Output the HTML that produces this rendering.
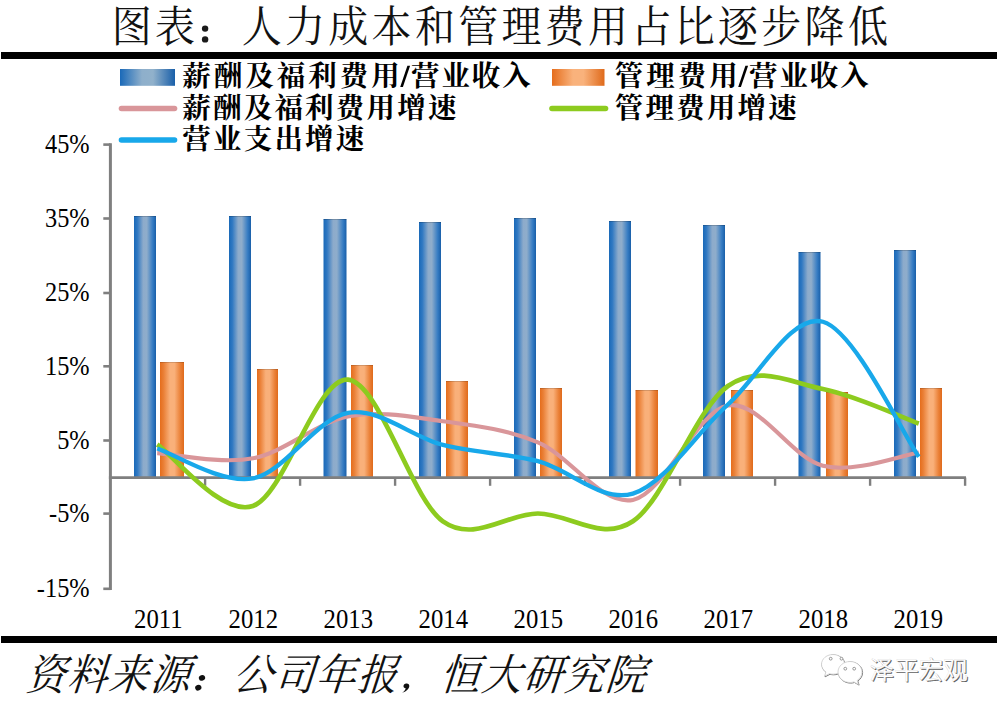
<!DOCTYPE html>
<html><head><meta charset="utf-8"><title>chart</title>
<style>
html,body{margin:0;padding:0;background:#fff;}
body{width:1001px;height:714px;overflow:hidden;font-family:"Liberation Serif",serif;}
svg{display:block}
.n{font-family:"Liberation Serif",serif;font-size:24px;fill:#000}
.t{font-family:"Liberation Serif","Noto Serif CJK SC",serif;font-size:40px;fill:#111}
.l{font-family:"Liberation Serif","Noto Serif CJK SC",serif;font-size:28.5px;font-weight:bold;fill:#000}
.w{font-family:"Liberation Sans","Noto Sans CJK SC",sans-serif;font-size:24.6px}
</style></head><body>
<svg width="1001" height="714" viewBox="0 0 1001 714">
<defs>
<linearGradient id="gb" x1="0" x2="1" y1="0" y2="0">
<stop offset="0" stop-color="#1a69b8"/><stop offset="0.15" stop-color="#2f78c2"/><stop offset="0.42" stop-color="#8dabcb"/><stop offset="0.58" stop-color="#8fadcb"/><stop offset="0.85" stop-color="#367cc3"/><stop offset="1" stop-color="#195fa9"/>
</linearGradient>
<linearGradient id="go" x1="0" x2="1" y1="0" y2="0">
<stop offset="0" stop-color="#e56d1c"/><stop offset="0.15" stop-color="#ea8037"/><stop offset="0.42" stop-color="#f9b07a"/><stop offset="0.6" stop-color="#f9b07a"/><stop offset="0.85" stop-color="#ea8037"/><stop offset="1" stop-color="#df6a1b"/>
</linearGradient>
<linearGradient id="gbl" x1="0" x2="1" y1="0" y2="0">
<stop offset="0" stop-color="#1a69b8"/><stop offset="0.4" stop-color="#8eafcb"/><stop offset="0.6" stop-color="#91b1cb"/><stop offset="1" stop-color="#195fa9"/>
</linearGradient>
<linearGradient id="gor" x1="0" x2="1" y1="0" y2="0">
<stop offset="0" stop-color="#e56d1c"/><stop offset="0.4" stop-color="#f9b27c"/><stop offset="0.6" stop-color="#f9b27c"/><stop offset="1" stop-color="#df6a1b"/>
</linearGradient>
</defs>
<rect x="0" y="0" width="1001" height="714" fill="#fff"/>
<rect x="1" y="52" width="996" height="7" fill="#000"/>
<rect x="1" y="636" width="996" height="7" fill="#000"/>
<rect x="120" y="69" width="55" height="16.8" fill="url(#gbl)"/>
<rect x="552" y="69" width="52.5" height="16.8" fill="url(#gor)"/>
<line x1="121.5" y1="108.5" x2="174.5" y2="108.5" stroke="#d9969a" stroke-width="5.6" stroke-linecap="round"/>
<line x1="552" y1="108.5" x2="605.5" y2="108.5" stroke="#8dcb1f" stroke-width="5.6" stroke-linecap="round"/>
<line x1="121.5" y1="140" x2="174.5" y2="140" stroke="#18a8ea" stroke-width="5.6" stroke-linecap="round"/>
<rect x="134.0" y="216.0" width="22.0" height="261.6" fill="url(#gb)"/>
<rect x="160.0" y="362.0" width="24.0" height="115.6" fill="url(#go)"/>
<rect x="134.0" y="216.0" width="22.0" height="1" fill="#000" fill-opacity="0.18"/>
<rect x="160.0" y="362.0" width="24.0" height="1" fill="#000" fill-opacity="0.15"/>
<rect x="229.0" y="216.0" width="22.0" height="261.6" fill="url(#gb)"/>
<rect x="257.0" y="369.0" width="21.0" height="108.6" fill="url(#go)"/>
<rect x="229.0" y="216.0" width="22.0" height="1" fill="#000" fill-opacity="0.18"/>
<rect x="257.0" y="369.0" width="21.0" height="1" fill="#000" fill-opacity="0.15"/>
<rect x="323.5" y="219.0" width="23.0" height="258.6" fill="url(#gb)"/>
<rect x="351.0" y="365.0" width="22.0" height="112.6" fill="url(#go)"/>
<rect x="323.5" y="219.0" width="23.0" height="1" fill="#000" fill-opacity="0.18"/>
<rect x="351.0" y="365.0" width="22.0" height="1" fill="#000" fill-opacity="0.15"/>
<rect x="419.0" y="222.0" width="22.0" height="255.6" fill="url(#gb)"/>
<rect x="446.0" y="381.0" width="22.0" height="96.6" fill="url(#go)"/>
<rect x="419.0" y="222.0" width="22.0" height="1" fill="#000" fill-opacity="0.18"/>
<rect x="446.0" y="381.0" width="22.0" height="1" fill="#000" fill-opacity="0.15"/>
<rect x="514.0" y="218.0" width="22.0" height="259.6" fill="url(#gb)"/>
<rect x="540.0" y="388.0" width="22.0" height="89.6" fill="url(#go)"/>
<rect x="514.0" y="218.0" width="22.0" height="1" fill="#000" fill-opacity="0.18"/>
<rect x="540.0" y="388.0" width="22.0" height="1" fill="#000" fill-opacity="0.15"/>
<rect x="609.0" y="221.0" width="22.0" height="256.6" fill="url(#gb)"/>
<rect x="635.5" y="390.0" width="22.5" height="87.6" fill="url(#go)"/>
<rect x="609.0" y="221.0" width="22.0" height="1" fill="#000" fill-opacity="0.18"/>
<rect x="635.5" y="390.0" width="22.5" height="1" fill="#000" fill-opacity="0.15"/>
<rect x="703.0" y="225.0" width="22.0" height="252.6" fill="url(#gb)"/>
<rect x="731.0" y="390.0" width="22.0" height="87.6" fill="url(#go)"/>
<rect x="703.0" y="225.0" width="22.0" height="1" fill="#000" fill-opacity="0.18"/>
<rect x="731.0" y="390.0" width="22.0" height="1" fill="#000" fill-opacity="0.15"/>
<rect x="798.5" y="252.0" width="22.0" height="225.6" fill="url(#gb)"/>
<rect x="826.0" y="392.0" width="22.0" height="85.6" fill="url(#go)"/>
<rect x="798.5" y="252.0" width="22.0" height="1" fill="#000" fill-opacity="0.18"/>
<rect x="826.0" y="392.0" width="22.0" height="1" fill="#000" fill-opacity="0.15"/>
<rect x="894.0" y="250.0" width="22.0" height="227.6" fill="url(#gb)"/>
<rect x="920.0" y="388.0" width="22.0" height="89.6" fill="url(#go)"/>
<rect x="894.0" y="250.0" width="22.0" height="1" fill="#000" fill-opacity="0.18"/>
<rect x="920.0" y="388.0" width="22.0" height="1" fill="#000" fill-opacity="0.15"/>
<line x1="110.4" y1="143.2" x2="110.4" y2="590" stroke="#7f7f7f" stroke-width="3"/>
<line x1="108.9" y1="477.6" x2="966" y2="477.6" stroke="#7f7f7f" stroke-width="2.6"/>
<line x1="103.3" y1="144.6" x2="110.4" y2="144.6" stroke="#7f7f7f" stroke-width="2.6"/>
<line x1="103.3" y1="218.5" x2="110.4" y2="218.5" stroke="#7f7f7f" stroke-width="2.6"/>
<line x1="103.3" y1="293.0" x2="110.4" y2="293.0" stroke="#7f7f7f" stroke-width="2.6"/>
<line x1="103.3" y1="366.3" x2="110.4" y2="366.3" stroke="#7f7f7f" stroke-width="2.6"/>
<line x1="103.3" y1="440.5" x2="110.4" y2="440.5" stroke="#7f7f7f" stroke-width="2.6"/>
<line x1="103.3" y1="513.6" x2="110.4" y2="513.6" stroke="#7f7f7f" stroke-width="2.6"/>
<line x1="103.3" y1="588.8" x2="110.4" y2="588.8" stroke="#7f7f7f" stroke-width="2.6"/>
<line x1="205.1" y1="477.6" x2="205.1" y2="485.8" stroke="#7f7f7f" stroke-width="2.4"/>
<line x1="300.1" y1="477.6" x2="300.1" y2="485.8" stroke="#7f7f7f" stroke-width="2.4"/>
<line x1="395.1" y1="477.6" x2="395.1" y2="485.8" stroke="#7f7f7f" stroke-width="2.4"/>
<line x1="490.1" y1="477.6" x2="490.1" y2="485.8" stroke="#7f7f7f" stroke-width="2.4"/>
<line x1="585.1" y1="477.6" x2="585.1" y2="485.8" stroke="#7f7f7f" stroke-width="2.4"/>
<line x1="680.1" y1="477.6" x2="680.1" y2="485.8" stroke="#7f7f7f" stroke-width="2.4"/>
<line x1="775.1" y1="477.6" x2="775.1" y2="485.8" stroke="#7f7f7f" stroke-width="2.4"/>
<line x1="870.1" y1="477.6" x2="870.1" y2="485.8" stroke="#7f7f7f" stroke-width="2.4"/>
<line x1="965.1" y1="477.6" x2="965.1" y2="485.8" stroke="#7f7f7f" stroke-width="2.4"/>
<path d="M157.20,453.16 C173.15,454.02 221.12,464.41 252.90,458.30 C284.68,452.19 316.23,422.68 347.90,416.50 C379.57,410.32 411.23,416.90 442.90,421.20 C474.57,425.50 506.23,429.18 537.90,442.30 C569.57,455.42 601.23,506.03 632.90,499.90 C664.57,493.77 696.23,411.18 727.90,405.50 C759.57,399.82 791.08,457.97 822.90,465.80 C854.72,473.63 902.82,454.70 918.80,452.47" fill="none" stroke="#d9969a" stroke-width="4.1" stroke-linecap="butt" stroke-linejoin="round"/>
<path d="M157.20,444.55 C173.15,454.79 221.12,516.81 252.90,506.00 C284.68,495.19 316.23,377.15 347.90,379.70 C379.57,382.25 411.23,499.00 442.90,521.30 C474.57,543.60 506.23,513.50 537.90,513.50 C569.57,513.50 601.23,542.55 632.90,521.30 C664.57,500.05 696.23,408.05 727.90,386.00 C759.57,363.95 791.08,382.75 822.90,389.00 C854.72,395.25 902.82,417.77 918.80,423.52" fill="none" stroke="#8dcb1f" stroke-width="4.7" stroke-linecap="butt" stroke-linejoin="round"/>
<path d="M157.20,448.48 C173.15,453.47 221.12,484.33 252.90,478.40 C284.68,472.47 316.23,418.48 347.90,412.90 C379.57,407.32 411.23,436.85 442.90,444.90 C474.57,452.95 506.23,453.08 537.90,461.20 C569.57,469.32 601.23,503.05 632.90,493.60 C664.57,484.15 696.23,433.13 727.90,404.50 C759.57,375.87 791.08,313.11 822.90,321.80 C854.72,330.49 902.82,434.19 918.80,456.67" fill="none" stroke="#18a8ea" stroke-width="4.3" stroke-linecap="butt" stroke-linejoin="round"/>
<text transform="translate(89.6,152.9) scale(1.015,1.13)" text-anchor="end" class="n">45%</text>
<text transform="translate(89.6,226.8) scale(1.015,1.13)" text-anchor="end" class="n">35%</text>
<text transform="translate(89.6,301.3) scale(1.015,1.13)" text-anchor="end" class="n">25%</text>
<text transform="translate(89.6,374.6) scale(1.015,1.13)" text-anchor="end" class="n">15%</text>
<text transform="translate(89.6,448.8) scale(1.015,1.13)" text-anchor="end" class="n">5%</text>
<text transform="translate(89.6,521.9) scale(1.015,1.13)" text-anchor="end" class="n">-5%</text>
<text transform="translate(89.6,597.1) scale(1.015,1.13)" text-anchor="end" class="n">-15%</text>
<text transform="translate(158.3,628.3) scale(1.03,1.13)" text-anchor="middle" class="n">2011</text>
<text transform="translate(253.3,628.3) scale(1.03,1.13)" text-anchor="middle" class="n">2012</text>
<text transform="translate(348.3,628.3) scale(1.03,1.13)" text-anchor="middle" class="n">2013</text>
<text transform="translate(443.3,628.3) scale(1.03,1.13)" text-anchor="middle" class="n">2014</text>
<text transform="translate(538.3,628.3) scale(1.03,1.13)" text-anchor="middle" class="n">2015</text>
<text transform="translate(633.3,628.3) scale(1.03,1.13)" text-anchor="middle" class="n">2016</text>
<text transform="translate(728.3,628.3) scale(1.03,1.13)" text-anchor="middle" class="n">2017</text>
<text transform="translate(823.3,628.3) scale(1.03,1.13)" text-anchor="middle" class="n">2018</text>
<text transform="translate(918.3,628.3) scale(1.03,1.13)" text-anchor="middle" class="n">2019</text>
<circle cx="205.1" cy="28.6" r="3.2" fill="#1a1a1a"/><circle cx="205.1" cy="39.4" r="3.2" fill="#1a1a1a"/>
<ellipse cx="202" cy="677.9" rx="3.2" ry="2.8" fill="#111" transform="rotate(-20 202 677.9)"/><ellipse cx="198.3" cy="687.7" rx="3.2" ry="2.8" fill="#111" transform="rotate(-20 198.3 687.7)"/>
<path d="M406.2,683.6c1.900,-0.300 3.300,0.900 3.100,2.700c-0.300,2.600 -3.200,5.300 -7.300,6.700c2.300,-1.700 3.600,-3.300 3.700,-4.700c-1.300,0.100 -2.300,-0.800 -2.200,-2.200c0.100,-1.300 1.200,-2.300 2.700,-2.500z" fill="#111"/>
<g fill="none" stroke="#7a7a7a" stroke-width="1" transform="translate(0.600,0.600)"><path d="M833,654.5c-6.4,0-11.5,4.4-11.5,9.8c0,3.1,1.7,5.9,4.4,7.7l-1.4,4.2l4.9-2.5c1.1,0.3,2.4,0.5,3.6,0.5c6.4,0,11.5-4.400,11.5-9.8S839.4,654.5,833,654.5z"/>
<path d="M850,661.5c-6.6,0-12,4.700-12,10.5s5.400,10.500,12,10.500c1.400,0,2.700-0.200,3.900-0.600l4.600,2.600l-1.300-4.100c2.900-1.900,4.800-4.900,4.800-8.400C862,666.2,856.600,661.500,850,661.500z"/></g><g fill="#fff" stroke="#c4c4c4" stroke-width="0.7"><path d="M833,654.5c-6.4,0-11.5,4.4-11.5,9.8c0,3.1,1.7,5.9,4.4,7.7l-1.4,4.2l4.9-2.5c1.1,0.3,2.4,0.5,3.6,0.5c6.4,0,11.5-4.400,11.5-9.800S839.400,654.500,833,654.500z"/>
<path d="M850,661.5c-6.6,0-12,4.700-12,10.5s5.400,10.500,12,10.500c1.400,0,2.700-0.200,3.900-0.600l4.600,2.600l-1.300-4.100c2.900-1.900,4.800-4.900,4.800-8.400C862,666.2,856.600,661.500,850,661.500z"/></g><g fill="#fff" stroke="#808080" stroke-width="0.8"><circle cx="830.7" cy="658.7" r="1.400"/><circle cx="841.5" cy="658.7" r="1.400"/><circle cx="845.300" cy="668.700" r="1.400"/><circle cx="854.200" cy="668.700" r="1.400"/></g>
<text class="t" transform="translate(0,42.2) scale(1,1.0875)" y="0" x="111.8 155.1">图表</text>
<text class="t" transform="translate(0,42.2) scale(1,1.0875)" y="0" x="241.7 285 328.3 371.6 414.9 458.2 501.5 544.8 588.1 631.4 674.7 718 761.3 804.6 847.9">人力成本和管理费用占比逐步降低</text>
<text class="l" y="85.6" x="182.3 213.8 245.3 276.8 308.3 339.8 371.3">薪酬及福利费用</text>
<text class="l" y="85.6" x="411 441.4 471.8 502.2">营业收入</text>
<text class="l" y="85.6" x="614.8 646.3 677.8 709.3">管理费用</text>
<text class="l" y="85.6" x="749 779.4 809.8 840.2">营业收入</text>
<text class="l" y="117.7" x="182.3 213 243.7 274.4 305.1 335.8 366.5 397.2 427.9">薪酬及福利费用增速</text>
<text class="l" y="117.7" x="614.8 645.5 676.2 706.9 737.6 768.3">管理费用增速</text>
<text class="l" y="149" x="182.3 213 243.7 274.4 305.1 335.8">营业支出增速</text>
<text class="t" transform="translate(0,690) skewX(-18) scale(1,1.075)" y="0" x="24.9 66.32 107.74 149.16">资料来源</text>
<text class="t" transform="translate(0,690) skewX(-18) scale(1,1.075)" y="0" x="232 273.42 314.84 356.26">公司年报</text>
<text class="t" transform="translate(0,690) skewX(-18) scale(1,1.075)" y="0" x="439.1 480.52 521.94 563.36 604.78">恒大研究院</text>
<text class="w" y="680.1" x="870.6 895.15 919.7 944.25" fill="#5e5e5e">泽平宏观</text>
<text class="w" y="679.1" x="869.6 894.15 918.7 943.25" fill="#fff" stroke="#cfcfcf" stroke-width="0.25">泽平宏观</text>
<polygon points="400.2,86.9 402.9,86.9 410.1,65.7 407.4,65.7" fill="#000"/>
<polygon points="738.2,86.9 740.9,86.9 748.1,65.7 745.4,65.7" fill="#000"/>
</svg>
</body></html>
